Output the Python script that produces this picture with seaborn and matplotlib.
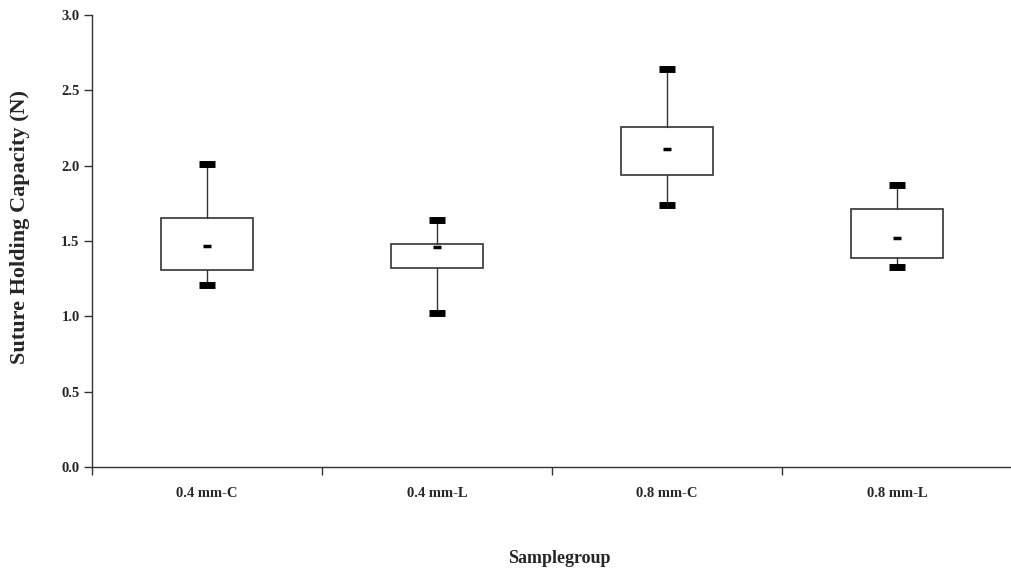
import matplotlib
matplotlib.use("Agg")
import matplotlib.pyplot as plt
import seaborn as sns
import pandas as pd

groups = ["0.4 mm-C", "0.4 mm-L", "0.8 mm-C", "0.8 mm-L"]
q1 = [1.31, 1.32, 1.94, 1.39]
q3 = [1.65, 1.48, 2.26, 1.71]
whisker_low = [1.21, 1.02, 1.74, 1.33]
whisker_high = [2.01, 1.64, 2.64, 1.87]
means = [1.47, 1.46, 2.11, 1.52]
yticks = [0.0, 0.5, 1.0, 1.5, 2.0, 2.5, 3.0]

sns.set_theme(style="ticks")
plt.rcParams["font.family"] = ["Liberation Serif", "DejaVu Serif"]
plt.rcParams["font.weight"] = "bold"

fig = plt.figure(figsize=(10.12, 5.76), dpi=100)
ax = fig.add_axes([0.091, 0.189, 0.909, 0.785])

stats = []
for i, g in enumerate(groups):
    stats.append(dict(label=g, q1=q1[i], q3=q3[i], med=(q1[i] + q3[i]) / 2,
                      whislo=whisker_low[i], whishi=whisker_high[i], fliers=[]))

ax.bxp(stats, positions=range(len(groups)), widths=0.40, showfliers=False,
       capwidths=0.07, patch_artist=True,
       boxprops=dict(facecolor="white", edgecolor="#333333", linewidth=1.2),
       whiskerprops=dict(color="#333333", linewidth=1.0),
       capprops=dict(color="black", linewidth=5, solid_capstyle="butt"),
       medianprops=dict(linewidth=0))

df = pd.DataFrame({"group": list(range(len(groups))), "mean": means})
sns.scatterplot(data=df, x="group", y="mean", marker="_", s=40, linewidth=2.5,
                color="black", ax=ax, zorder=5, legend=False)

ax.set_xlim(-0.5, len(groups) - 0.5)
ax.set_ylim(0, 3.0)
ax.set_yticks(yticks)
ax.set_yticklabels([f"{v:.1f}" for v in yticks], fontsize=10.5, fontweight="bold")
ax.set_xticks(range(len(groups)))
ax.set_xticklabels(groups, fontsize=10.5, fontweight="bold")
ax.tick_params(axis="x", which="major", length=0, pad=14)
ax.set_xticks([i - 0.5 for i in range(len(groups) + 1)], minor=True)
ax.tick_params(axis="x", which="minor", length=6, width=1, color="#333333", direction="out")
ax.tick_params(axis="y", length=6, width=1, color="#333333", direction="out", pad=3)

for s in ["top", "right"]:
    ax.spines[s].set_visible(False)
for s in ["left", "bottom"]:
    ax.spines[s].set_color("#333333")
    ax.spines[s].set_linewidth(1.0)

ax.set_xlabel("Samplegroup", fontsize=13, fontweight="bold")
ax.xaxis.set_label_coords(0.508, -0.183)
ax.set_ylabel("Suture Holding Capacity (N)", fontsize=16, fontweight="bold")
ax.yaxis.set_label_coords(-0.068, 0.53)

fig.savefig("out.png", dpi=100)
